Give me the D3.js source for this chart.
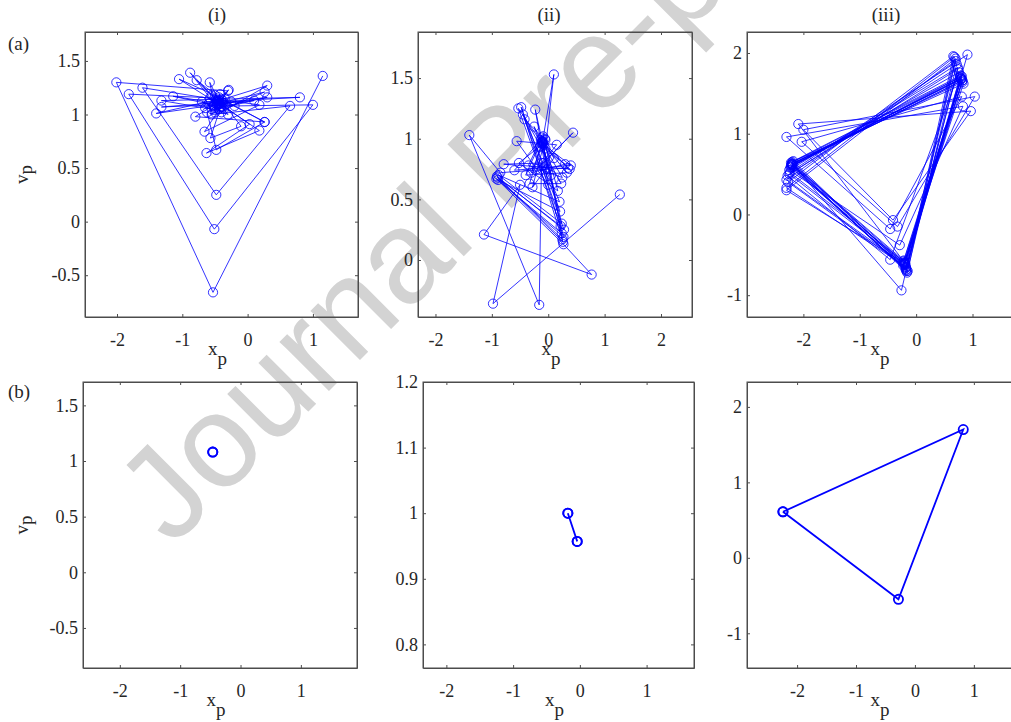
<!DOCTYPE html>
<html>
<head>
<meta charset="utf-8">
<script src="https://cdn.jsdelivr.net/npm/d3@7"></script>
<style>
  body { margin: 0; background: #fff; }
  svg { display: block; }
  .serif { font-family: "Liberation Serif", "Times New Roman", Tinos, "Nimbus Roman", "Noto Serif", "DejaVu Serif", FreeSerif, serif; }
</style>
</head>
<body>
<div id="myplot"></div>
<script>
// --- Data (x_p, v_p) ---
const trajAi = [
  [1.15,1.36],[-0.53,-0.66],[-2.01,1.30],[-0.30,1.22],[-0.55,1.05],[-1.32,1.13],[0.80,1.16],[-0.45,1.12],
  [-0.88,1.39],[-0.40,1.02],[0.30,1.27],[-0.60,1.10],[-1.14,1.17],[-0.20,1.08],[1.00,1.09],[-0.51,-0.07],
  [-1.82,1.19],[-0.35,1.15],[-0.80,0.98],[0.26,0.93],[-0.50,1.18],[-1.05,1.33],[-0.40,1.08],[-0.66,0.84],
  [0.18,1.09],[-0.45,1.14],[-1.40,1.01],[0.30,1.16],[-0.50,1.06],[-0.58,1.30],[-0.42,1.10],[0.03,0.91],
  [-0.63,0.64],[0.18,0.85],[-0.48,1.12],[-0.29,1.23],[-0.55,1.00],[0.65,1.08],[-0.48,0.25],[-1.61,1.25],
  [-0.38,1.13],[-0.57,0.78],[-0.10,0.89],[-0.44,1.16],[-0.78,1.32],[-0.36,1.05],[0.26,1.21],[-0.52,1.09],
  [-1.32,1.07],[-0.25,1.12],[-0.62,1.02],[-0.48,0.67],[0.26,0.93],[-0.40,1.14],[-0.55,1.18],[-0.30,1.00],
  [-0.70,1.12],[-0.42,1.06],[0.10,1.13],[-0.47,1.10],[-0.58,1.15],[-0.35,1.09],[-0.50,1.02],[-0.42,1.19],
  [-0.65,1.06],[-0.38,1.11],[-0.46,1.13],[-0.52,1.08],[-0.44,1.05],[-0.40,1.12],[-0.47,1.09],[-0.43,1.10],
  [-0.49,1.14],[-0.41,1.07],[-0.45,1.11]
];
const trajAii = [
  [1.27,0.54],[-0.98,-0.36],[-0.50,0.62],[-1.14,0.21],[0.77,-0.12],[0.27,0.13],[-0.92,0.67],[0.24,0.22],
  [-0.12,0.80],[-0.16,-0.37],[-1.40,1.03],[-0.85,0.72],[0.35,0.76],[-0.10,0.98],[0.10,1.53],[-0.05,0.92],
  [-0.53,1.25],[0.22,0.28],[-0.90,0.68],[0.26,0.15],[-0.48,1.26],[0.21,0.40],[-0.89,0.66],[0.27,0.19],
  [-0.23,1.24],[0.00,0.62],[-0.56,0.98],[0.15,0.95],[-0.20,0.75],[0.44,1.05],[-0.08,0.80],[-0.79,0.79],
  [0.38,0.75],[-0.12,0.96],[-0.33,0.63],[0.23,0.63],[-0.45,1.20],[0.28,0.25],[-0.91,0.69],[0.25,0.17],
  [-0.06,1.00],[-0.30,0.72],[0.30,0.79],[-0.14,0.94],[-0.52,0.80],[0.17,0.57],[-0.09,1.02],[-0.40,0.70],
  [0.33,0.72],[-0.11,0.97],[-0.25,1.10],[0.05,0.70],[-0.13,0.99],[-0.60,0.74],[0.40,0.78],[-0.08,0.95],
  [-0.28,0.60],[0.10,0.84],[-0.12,1.01],[-0.35,0.78],[0.25,0.68],[-0.10,0.96],[-0.15,0.93],[-0.05,0.99],
  [-0.42,1.16],[0.20,0.48],[-0.88,0.70],[0.24,0.30],[-0.11,0.98],[-0.02,0.75],[-0.09,0.97]
];
const trajAiii = [
  [-2.20,0.62],[0.80,1.68],[-0.20,-0.60],[-2.22,0.64],[0.78,1.70],[-0.18,-0.65],
  [-2.30,0.33],[0.68,1.95],[-0.15,-0.70],[-2.21,0.60],[0.82,1.66],[-0.22,-0.58],
  [-2.09,1.12],[0.97,1.28],[-0.41,-0.07],[-2.00,1.05],[1.04,1.46],[-0.33,-0.15],
  [-2.03,0.90],[0.81,1.46],[-0.46,-0.18],[-2.30,0.96],[0.83,1.34],[-0.29,-0.38],
  [-2.25,0.55],[0.74,1.82],[-0.17,-0.68],[-2.18,0.66],[0.79,1.72],[-0.21,-0.62],
  [-2.30,0.43],[0.70,1.90],[-0.26,-0.94],[-2.20,0.63],[0.82,1.64],[-0.19,-0.61],
  [-2.23,0.58],[0.76,1.76],[-0.46,-0.56],[-2.28,0.48],[0.72,1.86],[-0.16,-0.72],
  [-2.19,0.61],[0.80,1.69],[-0.20,-0.59],[-2.24,0.52],[0.91,1.98],[-0.18,-0.66],
  [-2.20,0.65],[0.84,1.62],[-0.23,-0.63],[-2.27,0.40],[0.66,1.96],[-0.17,-0.70],
  [-2.21,0.62],[0.79,1.67],[-0.21,-0.60],[-2.30,0.30],[0.70,1.93],[-0.19,-0.67],
  [-2.22,0.59],[0.81,1.71],[-0.22,-0.57],[-2.20,0.63],[0.80,1.68],[-0.20,-0.61],
  [-2.25,0.50],[0.74,1.80],[-0.18,-0.69],[-2.21,0.61],[0.82,1.66],[-0.21,-0.62],
  [-2.20,0.62]
];
const trajBi = [[-0.46,1.08],[-0.46,1.08]];
const trajBii = [[-0.18,1.00],[-0.04,0.957],[-0.18,1.00],[-0.04,0.957]];
const trajBiii = [[-2.24,0.61],[0.82,1.70],[-0.28,-0.55],[-2.24,0.61]];

// tick values
const xTicksAi = [-2, -1, 0, 1];
const yTicksAi = [-0.5, 0, 0.5, 1, 1.5];
const xTicksAii = [-2, -1, 0, 1, 2];
const yTicksAii = [0, 0.5, 1, 1.5];
const xTicksAiii = [-2, -1, 0, 1];
const yTicksAiii = [-1, 0, 1, 2];
const xTicksBi = [-2, -1, 0, 1];
const yTicksBi = [-0.5, 0, 0.5, 1, 1.5];
const xTicksBii = [-2, -1, 0, 1];
const yTicksBii = [0.8, 0.9, 1, 1.1, 1.2];
const xTicksBiii = [-2, -1, 0, 1];
const yTicksBiii = [-1, 0, 1, 2];

const colTitles = ["(i)", "(ii)", "(iii)"];
const rowTitles = ["(a)", "(b)"];

// --- Layout ---
const W = 1011, H = 722;
const textColor = "#262626";
const axisColor = "#4d4d4d";
const blue = "#0000ff";

const panels = [
  { data: trajAi, left: 85, right: 358, top: 32, bottom: 317, xDom: [-2.49, 1.69], yDom: [-0.89, 1.77], xt: xTicksAi, yt: yTicksAi, lw: 0.8, ylab: true },
  { data: trajAii, left: 418, right: 692, top: 32, bottom: 317, xDom: [-2.31, 2.55], yDom: [-0.47, 1.88], xt: xTicksAii, yt: yTicksAii, lw: 0.8 },
  { data: trajAiii, left: 747, right: 1021, top: 32, bottom: 317, xDom: [-3.0, 1.86], yDom: [-1.27, 2.26], xt: xTicksAiii, yt: yTicksAiii, lw: 0.8 },
  { data: trajBi, left: 83, right: 357, top: 382, bottom: 668, xDom: [-2.61, 1.93], yDom: [-0.86, 1.71], xt: xTicksBi, yt: yTicksBi, lw: 1.8, ylab: true },
  { data: trajBii, left: 423, right: 694, top: 382, bottom: 668, xDom: [-2.35, 1.71], yDom: [0.764, 1.2], xt: xTicksBii, yt: yTicksBii, lw: 1.8 },
  { data: trajBiii, left: 747, right: 1021, top: 382, bottom: 668, xDom: [-2.85, 1.8], yDom: [-1.46, 2.33], xt: xTicksBiii, yt: yTicksBiii, lw: 1.8 }
];

const svg = d3.select("#myplot").append("svg").attr("width", W).attr("height", H);

// Watermark, behind everything
svg.append("text")
  .attr("transform", "translate(172,548) rotate(-45)")
  .style("font-family", "'Liberation Sans', Arial, sans-serif")
  .attr("font-size", 132)
  .attr("fill", "#d3d3d3")
  .text("Journal Pre-proof");

panels.forEach((p) => {
  const x = d3.scaleLinear().domain(p.xDom).range([p.left, p.right]);
  const y = d3.scaleLinear().domain(p.yDom).range([p.bottom, p.top]);
  const g = svg.append("g");
  const fmt = (d) => String(d);

  // bottom axis with labels
  g.append("g").attr("transform", `translate(0,${p.bottom})`)
    .call(d3.axisBottom(x).tickValues(p.xt).tickFormat(fmt).tickSizeInner(-3).tickSizeOuter(0).tickPadding(16));
  // top axis, ticks only
  g.append("g").attr("transform", `translate(0,${p.top})`)
    .call(d3.axisTop(x).tickValues(p.xt).tickFormat("").tickSizeInner(-3).tickSizeOuter(0));
  // left axis with labels
  g.append("g").attr("transform", `translate(${p.left},0)`)
    .call(d3.axisLeft(y).tickValues(p.yt).tickFormat(fmt).tickSizeInner(-3).tickSizeOuter(0).tickPadding(5));
  // right axis, ticks only
  g.append("g").attr("transform", `translate(${p.right},0)`)
    .call(d3.axisRight(y).tickValues(p.yt).tickFormat("").tickSizeInner(-3).tickSizeOuter(0));

  g.selectAll(".domain").attr("stroke", axisColor);
  g.selectAll(".tick line").attr("stroke", axisColor);
  g.selectAll(".tick text").attr("class", "serif").attr("font-family", null)
    .attr("fill", textColor).attr("font-size", 18);
  g.selectAll("g").attr("font-family", null);

  // full box
  g.append("rect")
    .attr("x", p.left).attr("y", p.top)
    .attr("width", p.right - p.left).attr("height", p.bottom - p.top)
    .attr("fill", "none").attr("stroke", axisColor).attr("stroke-width", 1);

  // trajectory
  const line = d3.line().x((d) => x(d[0])).y((d) => y(d[1]));
  g.append("path").datum(p.data)
    .attr("d", line)
    .attr("fill", "none").attr("stroke", blue).attr("stroke-width", p.lw);
  g.selectAll("circle.pt").data(p.data).enter().append("circle")
    .attr("class", "pt")
    .attr("cx", (d) => x(d[0])).attr("cy", (d) => y(d[1]))
    .attr("r", 4.6)
    .attr("fill", "none").attr("stroke", blue).attr("stroke-width", p.lw);

  // x label
  const xl = g.append("text").attr("class", "serif")
    .attr("x", (p.left + p.right) / 2 - 4).attr("y", p.bottom + 38)
    .attr("text-anchor", "middle")
    .attr("font-size", 19).attr("fill", textColor);
  xl.append("tspan").text("x");
  xl.append("tspan").attr("dy", 10).text("p");

  // y label
  if (p.ylab) {
    const ycen = (p.top + p.bottom) / 2;
    const yl = g.append("text").attr("class", "serif")
      .attr("transform", `translate(28,${ycen}) rotate(-90)`)
      .attr("text-anchor", "middle")
      .attr("font-size", 19).attr("fill", textColor);
    yl.append("tspan").text("v");
    yl.append("tspan").attr("dy", 4).text("p");
  }
});

// column titles
const titleX = [217, 549, 886];
colTitles.forEach((t, i) => {
  svg.append("text").attr("class", "serif").attr("x", titleX[i]).attr("y", 21)
    .attr("text-anchor", "middle")
    .attr("font-size", 19).attr("fill", textColor)
    .text(t);
});
// row titles
const rowY = [50, 398];
rowTitles.forEach((t, i) => {
  svg.append("text").attr("class", "serif").attr("x", 8).attr("y", rowY[i])
    .attr("font-size", 19).attr("fill", textColor)
    .text(t);
});
</script>
</body>
</html>
